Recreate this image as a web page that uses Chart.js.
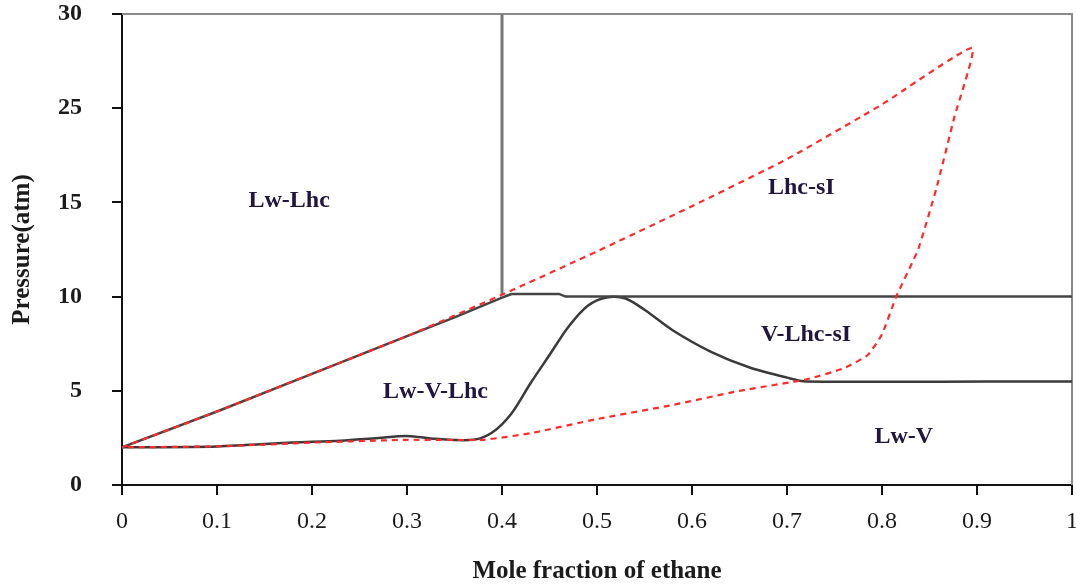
<!DOCTYPE html>
<html>
<head>
<meta charset="utf-8">
<script src="https://cdn.jsdelivr.net/npm/chart.js@4"></script>
<style>
  html, body { margin: 0; padding: 0; background: #fff; }
  #phaseChart { display: block; }
</style>
</head>
<body>
<canvas id="phaseChart" width="1076" height="584"></canvas>
<script>
// tick labels as printed on the original figure
const xTickLabels = ['0', '0.1', '0.2', '0.3', '0.4', '0.5', '0.6', '0.7', '0.8', '0.9', '1'];
const yTickLabels = ['0', '5', '10', '15', '25', '30'];

// upper three-phase boundary, then the 10 atm line
const upperX = [0, 0.1, 0.2, 0.3, 0.35, 0.4, 0.41, 0.46, 0.467, 1.0];
const upperY = [2.0, 3.9, 5.9, 7.9, 8.9, 9.95, 10.14, 10.14, 10.0, 10.0];

// lower boundary with the hump, then the 5.5 atm line
const lowerX = [0, 0.1, 0.18, 0.23, 0.27, 0.3, 0.33, 0.37, 0.39, 0.41, 0.43, 0.45, 0.47, 0.49, 0.51, 0.53, 0.55, 0.58, 0.62, 0.66, 0.70, 0.72, 1.0];
const lowerY = [2.0, 2.05, 2.25, 2.35, 2.5, 2.6, 2.45, 2.4, 2.8, 3.8, 5.4, 6.9, 8.4, 9.5, 9.95, 9.9, 9.3, 8.2, 7.07, 6.25, 5.7, 5.5, 5.5];

// vertical line at x = 0.4
const vertX = [0.4, 0.4];
const vertY = [10.1, 25];

// red dashed (model) loop
const redX = [0, 0.1, 0.2, 0.3, 0.4, 0.5, 0.6, 0.7, 0.8, 0.895, 0.876, 0.857, 0.838, 0.815, 0.8, 0.785, 0.76, 0.72, 0.65, 0.58, 0.5, 0.43, 0.38, 0.3, 0.2, 0.1, 0];
const redY = [2.0, 3.9, 5.9, 7.9, 10.1, 12.4, 14.8, 17.3, 20.2, 23.2, 19.5, 15.7, 12.5, 10.0, 8.0, 6.9, 6.2, 5.6, 5.0, 4.25, 3.5, 2.75, 2.4, 2.4, 2.25, 2.05, 2.0];

// region names and where they sit (data units)
const regionNames = ['Lw-Lhc', 'Lhc-sI', 'V-Lhc-sI', 'Lw-V-Lhc', 'Lw-V'];
const regionX = [0.176, 0.715, 0.72, 0.33, 0.823];
const regionY = [15.1, 15.8, 7.96, 4.94, 2.55];

function toPoints(xs, ys) {
    return xs.map((x, i) => ({ x: x, y: ys[i] }));
}

const serif = 'Liberation Serif';

const frameAndLabels = {
    id: 'frameAndLabels',
    beforeDatasetsDraw(chart) {
        const ctx = chart.ctx;
        const a = chart.chartArea;
        ctx.save();
        ctx.strokeStyle = '#8a8a8a';
        ctx.lineWidth = 2;
        ctx.beginPath();
        ctx.moveTo(a.left, a.top);
        ctx.lineTo(a.right, a.top);
        ctx.lineTo(a.right, a.bottom);
        ctx.stroke();
        ctx.restore();
    },
    afterDatasetsDraw(chart) {
        const ctx = chart.ctx;
        const xs = chart.scales.x;
        const ys = chart.scales.y;
        ctx.save();
        ctx.font = 'bold 24px "' + serif + '"';
        ctx.fillStyle = '#22163f';
        ctx.textAlign = 'center';
        ctx.textBaseline = 'middle';
        regionNames.forEach((name, i) => {
            ctx.fillText(name, xs.getPixelForValue(regionX[i]), ys.getPixelForValue(regionY[i]));
        });
        ctx.restore();
    }
};

const config = {
    type: 'scatter',
    data: {
        datasets: [
            {
                label: 'model',
                data: toPoints(redX, redY),
                showLine: true,
                borderColor: '#ff2a2a',
                borderWidth: 2.2,
                borderDash: [6, 5],
                pointRadius: 0,
                tension: 0.15,
                fill: false
            },
            {
                label: 'upper',
                data: toPoints(upperX, upperY),
                showLine: true,
                borderColor: '#444',
                borderWidth: 2.5,
                pointRadius: 0,
                tension: 0,
                fill: false
            },
            {
                label: 'lower',
                data: toPoints(lowerX, lowerY),
                showLine: true,
                borderColor: '#3a3a3a',
                borderWidth: 2.5,
                pointRadius: 0,
                tension: 0.3,
                fill: false
            },
            {
                label: 'vertical',
                data: toPoints(vertX, vertY),
                showLine: true,
                borderColor: '#777',
                borderWidth: 3,
                pointRadius: 0,
                tension: 0,
                fill: false
            }
        ]
    },
    options: {
        responsive: false,
        devicePixelRatio: 1,
        animation: false,
        layout: {
            padding: { top: 14, right: 4, left: 0, bottom: 0 }
        },
        plugins: {
            legend: { display: false },
            tooltip: { enabled: false }
        },
        scales: {
            x: {
                type: 'linear',
                min: 0,
                max: 1,
                afterFit(scale) {
                    scale.height = 99;
                    scale.paddingLeft = 0;
                    scale.paddingRight = 0;
                },
                border: { color: '#111', width: 2 },
                grid: {
                    drawOnChartArea: false,
                    color: '#111',
                    lineWidth: 2,
                    tickLength: 10
                },
                ticks: {
                    stepSize: 0.1,
                    padding: 12,
                    color: '#1b1b1b',
                    maxRotation: 0,
                    autoSkip: false,
                    font: { family: serif, size: 24 },
                    callback: function (value, index) {
                        return xTickLabels[index];
                    }
                },
                title: {
                    display: true,
                    text: 'Mole fraction of ethane',
                    color: '#1b1b1b',
                    padding: { top: 0, bottom: 0 },
                    font: { family: serif, size: 25, weight: 'bold', lineHeight: 1.0 }
                }
            },
            y: {
                type: 'linear',
                min: 0,
                max: 25,
                afterFit(scale) {
                    scale.width = 122;
                    scale.paddingTop = 0;
                    scale.paddingBottom = 0;
                },
                border: { color: '#111', width: 2 },
                grid: {
                    drawOnChartArea: false,
                    color: '#111',
                    lineWidth: 2,
                    tickLength: 10
                },
                ticks: {
                    stepSize: 5,
                    padding: 30,
                    color: '#1b1b1b',
                    font: { family: serif, size: 24, weight: 'bold' },
                    callback: function (value, index) {
                        return yTickLabels[index];
                    }
                },
                title: {
                    display: true,
                    text: 'Pressure(atm)',
                    color: '#1b1b1b',
                    padding: { top: 8, bottom: 0 },
                    font: { family: serif, size: 25, weight: 'bold' }
                }
            }
        }
    },
    plugins: [frameAndLabels]
};

window.onload = function () {
    const ctx = document.getElementById('phaseChart').getContext('2d');
    new Chart(ctx, config);
};
</script>
</body>
</html>
